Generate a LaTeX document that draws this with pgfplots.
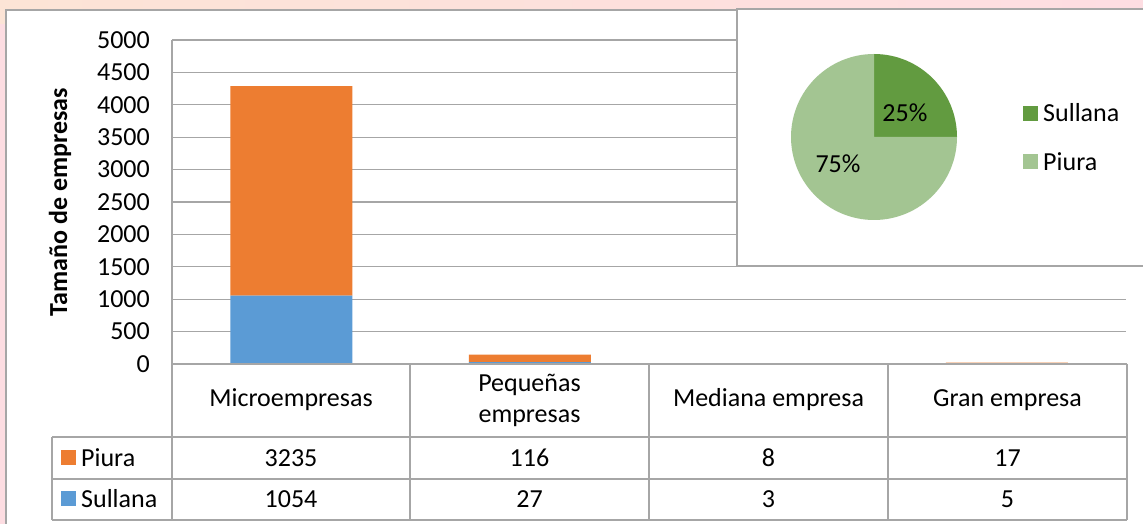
\documentclass[border=0pt]{standalone}
\usepackage{fontspec}
\setmainfont{Carlito}
\usepackage{pgfplots}
\pgfplotsset{compat=1.18}
\definecolor{piura}{HTML}{ED7D31}
\definecolor{sullana}{HTML}{5B9BD5}
\definecolor{pieS}{HTML}{629B40}
\definecolor{pieP}{HTML}{A3C592}
\definecolor{gridc}{HTML}{A6A6A6}
\definecolor{peach}{HTML}{FCE4D6}
\definecolor{pinkbg}{HTML}{FDDDE2}
\newcommand\cf{\fontsize{26}{31}\selectfont}
\begin{document}
\begin{tikzpicture}[x=1pt,y=1pt]
\useasboundingbox (0,0) rectangle (1143,524);
\fill[pinkbg] (0,0) rectangle (1143,524);
\shade[left color=peach, right color=pinkbg] (0,500) rectangle (1143,524);
\fill[white] (6,0) rectangle (1143,514);
\draw[gridc, line width=1.2pt] (6,0) -- (6,514) -- (1143,514);
\begin{axis}[at={(172pt,160pt)}, anchor=south west, scale only axis,
  width=954pt, height=324pt, xmin=-0.5, xmax=3.5, ymin=0, ymax=5000,
  ytick={0,500,...,5000}, xtick=\empty, ybar stacked, bar width=122pt,
  ymajorgrids, grid style={gridc, line width=1.2pt},
  axis x line=none, axis y line*=left,
  axis line style={-, gridc, line width=1.2pt},
  major tick length=0pt,
  yticklabel style={font=\cf, anchor=east, inner sep=0pt, xshift=-22pt},
  /pgf/number format/1000 sep={}, /pgf/number format/assume math mode=true,
  ylabel={\bfseries Tamaño de empresas},
  every axis y label/.style={at={(axis description cs:-0.1174,0.5)}, rotate=90, anchor=center, font=\cf},
  clip=false]
\addplot[fill=sullana, draw=none] coordinates {(0,1054) (1,27) (2,3) (3,5)};
\addplot[fill=piura, draw=none] coordinates {(0,3235) (1,116) (2,8) (3,17)};
\end{axis}
% data table
\begin{scope}[gridc, line width=1.2pt]
\draw (172,160) -- (1127,160);
\draw (52,87) -- (1127,87);
\draw (52,45) -- (1127,45);
\draw (52,4) -- (1127,4);
\draw (52,87) -- (52,4);
\draw (172,160) -- (172,4);
\draw (410,160) -- (410,4);
\draw (649,160) -- (649,4);
\draw (888,160) -- (888,4);
\draw (1127,160) -- (1127,4);
\end{scope}
\begin{scope}[every node/.style={font=\cf, inner sep=0pt}]
\node at (291,124) {Microempresas};
\node[align=center] at (529.5,124) {Pequeñas\\empresas};
\node at (768.5,124) {Mediana empresa};
\node at (1007.5,124) {Gran empresa};
\node at (291,66) {3235};
\node at (529.5,66) {116};
\node at (768.5,66) {8};
\node at (1007.5,66) {17};
\node at (291,25) {1054};
\node at (529.5,25) {27};
\node at (768.5,25) {3};
\node at (1007.5,25) {5};
\fill[piura] (61,59) rectangle (76,74);
\fill[sullana] (61,18) rectangle (76,33);
\node[anchor=west] at (81,66) {Piura};
\node[anchor=west] at (81,25) {Sullana};
\end{scope}
% pie inset
\fill[white] (737,258) rectangle (1150,515);
\draw[gridc, line width=1.2pt] (737,258) rectangle (1150,515);
\begin{axis}[at={(791pt,304pt)}, anchor=south west, scale only axis,
  width=166pt, height=166pt, xmin=-1, xmax=1, ymin=-1, ymax=1, hide axis, clip=false]
\fill[pieS] (axis cs:0,0) -- (axis cs:0,1) arc[start angle=90, end angle=0, radius=83pt] -- cycle;
\fill[pieP] (axis cs:0,0) -- (axis cs:1,0) arc[start angle=0, end angle=-270, radius=83pt] -- cycle;
\node[font=\cf, inner sep=0pt] at (axis cs:0.373,0.289) {25\%};
\node[font=\cf, inner sep=0pt] at (axis cs:-0.434,-0.325) {75\%};
\end{axis}
\fill[pieS] (1023,403) rectangle (1038,418);
\fill[pieP] (1023,355) rectangle (1038,370);
\node[font=\cf, inner sep=0pt, anchor=west] at (1043,411) {Sullana};
\node[font=\cf, inner sep=0pt, anchor=west] at (1043,362) {Piura};
\end{tikzpicture}
\end{document}
